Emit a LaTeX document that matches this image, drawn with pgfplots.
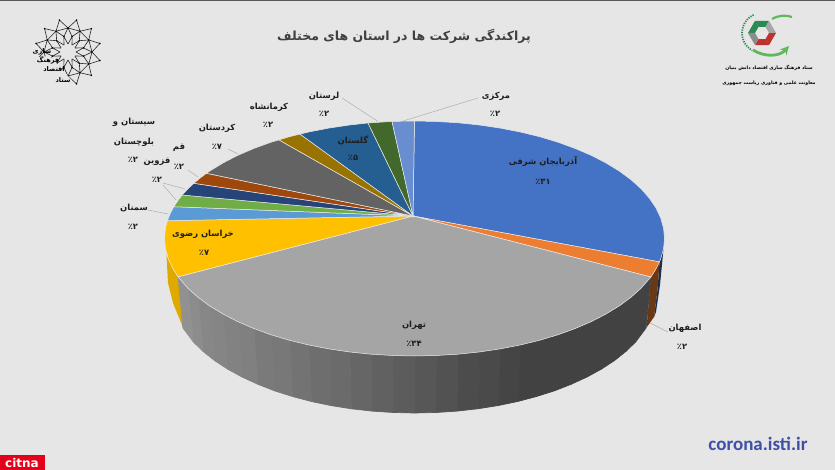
\documentclass[border=0pt]{standalone}
\usepackage{fontspec}
\usepackage{pgfplots}
\pgfplotsset{compat=1.18}
\TeXXeTstate=1
\newfontfamily\fa[Script=Arabic]{DejaVu Sans}
\newfontfamily\cb{Carlito}
\setmainfont{DejaVu Sans}
\definecolor{bg}{RGB}{230,230,230}
\definecolor{txt}{RGB}{30,30,30}
\definecolor{lead}{RGB}{175,175,175}
\definecolor{edge}{RGB}{235,235,235}
\definecolor{s1}{HTML}{4472C4}
\definecolor{s2}{HTML}{ED7D31}
\definecolor{s3}{HTML}{A5A5A5}
\definecolor{s4}{HTML}{FFC000}
\definecolor{s5}{HTML}{5B9BD5}
\definecolor{s6}{HTML}{70AD47}
\definecolor{s7}{HTML}{264478}
\definecolor{s8}{HTML}{9E480E}
\definecolor{s9}{HTML}{636363}
\definecolor{s10}{HTML}{997300}
\definecolor{s11}{HTML}{255E91}
\definecolor{s12}{HTML}{43682B}
\definecolor{s13}{HTML}{698ED0}
\definecolor{logog}{RGB}{40,140,80}
\definecolor{logol}{RGB}{95,185,90}
\definecolor{logor}{RGB}{190,50,45}
\definecolor{isti}{RGB}{62,80,168}
\definecolor{citnared}{RGB}{226,0,26}

\newcommand{\lab}[3]{\node[text=txt,inner sep=0pt,font=\fontsize{8.4}{9}\selectfont] at (axis cs:#1,#2) {\fa\bfseries #3};}
\newcommand{\slice}[2]{\addplot[fill=#1,draw=edge,line width=0.5pt] coordinates {(413,216) #2} --cycle;}
\newcommand{\wallq}[5]{\addplot[fill=black!#1,draw=black!#1,line width=0.7pt,line join=round] coordinates {#2 #3 #4 #5} --cycle;}
\newcommand{\leadline}[2]{\addplot[draw=lead,line width=0.5pt] coordinates {#1 #2};}

\begin{document}
\begin{tikzpicture}
\begin{axis}[
  at={(0pt,0pt)},
  scale only axis,
  width=835pt,
  height=470pt,
  xmin=0, xmax=835,
  ymin=0, ymax=470,
  y dir=reverse,
  hide axis,
  clip=true,
]
% page
\addplot[fill=bg,draw=none] coordinates {(0,0) (835,0) (835,470) (0,470)} --cycle;
\addplot[draw=black!65,line width=1pt] coordinates {(0,0.5) (835,0.5)};

% side walls at both ends of the grey slice
\addplot[fill=s1!40!black,draw=none] coordinates {(663.5,248.7) (660.7,258.9) (659.5,261.9) (657.5,290) (654,317) (656,312) (660,285)} --cycle;
\addplot[fill=s2!45!black,draw=none] coordinates {(659.5,261.9) (656,268.9) (650.9,277) (646.6,327.5) (654,317) (657.5,290)} --cycle;
\addplot[fill=s4!88!black,draw=none] coordinates {(178.1,276.8) (173,268.9) (168.3,258.9) (166.5,255) (168,283) (173,303) (183,327.5)} --cycle;

% side wall of the grey slice, darker to the right
\wallq{74}{(650.9,277)}{(641.1,288.2)}{(635.6,342)}{(646.1,328)}
\wallq{74}{(641.1,288.2)}{(631,297.25)}{(625.8,351.5)}{(635.6,342)}
\wallq{74}{(631,297.25)}{(619.3,305.9)}{(614.4,360.6)}{(625.8,351.5)}
\wallq{74}{(619.3,305.9)}{(606,314)}{(601.4,369.1)}{(614.4,360.6)}
\wallq{74}{(606,314)}{(591.3,321.6)}{(587,377)}{(601.4,369.1)}
\wallq{74}{(591.3,321.6)}{(575.2,328.5)}{(571.3,384.2)}{(587,377)}
\wallq{74}{(575.2,328.5)}{(557.9,334.8)}{(554.5,390.8)}{(571.3,384.2)}
\wallq{74}{(557.9,334.8)}{(539.5,340.3)}{(536.5,396.5)}{(554.5,390.8)}
\wallq{74}{(539.5,340.3)}{(520.2,345)}{(517.6,401.5)}{(536.5,396.5)}
\wallq{73}{(520.2,345)}{(500,348.9)}{(497.9,405.6)}{(517.6,401.5)}
\wallq{71}{(500,348.9)}{(479.2,352)}{(477.6,408.8)}{(497.9,405.6)}
\wallq{70}{(479.2,352)}{(457.9,354.2)}{(456.9,411.1)}{(477.6,408.8)}
\wallq{68}{(457.9,354.2)}{(436.3,355.5)}{(435.8,412.5)}{(456.9,411.1)}
\wallq{66}{(436.3,355.5)}{(414.5,356)}{(414.5,413)}{(435.8,412.5)}
\wallq{64}{(414.5,356)}{(392.7,355.5)}{(393.2,412.5)}{(414.5,413)}
\wallq{62}{(392.7,355.5)}{(371.1,354.2)}{(372.1,411.1)}{(393.2,412.5)}
\wallq{60}{(371.1,354.2)}{(349.8,352)}{(351.4,408.8)}{(372.1,411.1)}
\wallq{58}{(349.8,352)}{(329,348.9)}{(331.1,405.6)}{(351.4,408.8)}
\wallq{57}{(329,348.9)}{(308.8,345)}{(311.4,401.5)}{(331.1,405.6)}
\wallq{55}{(308.8,345)}{(289.5,340.3)}{(292.5,396.5)}{(311.4,401.5)}
\wallq{53}{(289.5,340.3)}{(271.1,334.8)}{(274.5,390.8)}{(292.5,396.5)}
\wallq{52}{(271.1,334.8)}{(253.8,328.5)}{(257.7,384.2)}{(274.5,390.8)}
\wallq{50}{(253.8,328.5)}{(237.7,321.6)}{(242,377)}{(257.7,384.2)}
\wallq{49}{(237.7,321.6)}{(223,314)}{(227.6,369.1)}{(242,377)}
\wallq{48}{(223,314)}{(209.7,305.9)}{(214.6,360.6)}{(227.6,369.1)}
\wallq{47}{(209.7,305.9)}{(198,297.25)}{(203.2,351.5)}{(214.6,360.6)}
\wallq{45}{(198,297.25)}{(187.9,288.2)}{(193.4,342)}{(203.2,351.5)}
\wallq{43}{(187.9,288.2)}{(178.1,276.8)}{(182.9,328)}{(193.4,342)}

% top face, one slice per province
\slice{s1}{(414.5,121) (436.3,121.5) (457.9,122.8) (479.2,125) (500,128.1) (520.2,132) (539.5,136.7) (557.9,142.2) (575.2,148.5) (591.3,155.4) (606,163) (619.3,171.1) (631,179.75) (641.1,188.8) (649.4,198.3) (656,208.1) (660.7,218.1) (663.55,228.3) (664.5,238.5) (663.55,248.7) (660.7,258.9) (659.5,261.9)}
\slice{s2}{(659.5,261.9) (656,268.9) (650.9,277)}
\slice{s3}{(650.9,277) (641.1,288.2) (631,297.25) (619.3,305.9) (606,314) (591.3,321.6) (575.2,328.5) (557.9,334.8) (539.5,340.3) (520.2,345) (500,348.9) (479.2,352) (457.9,354.2) (436.3,355.5) (414.5,356) (392.7,355.5) (371.1,354.2) (349.8,352) (329,348.9) (308.8,345) (289.5,340.3) (271.1,334.8) (253.8,328.5) (237.7,321.6) (223,314) (209.7,305.9) (198,297.25) (187.9,288.2) (178.1,276.8)}
\slice{s4}{(178.1,276.8) (173,268.9) (168.3,258.9) (165.45,248.7) (164.5,238.5) (165.45,228.3) (167.4,220.7)}
\slice{s5}{(167.4,220.7) (170,214.1) (173.8,206.7)}
\slice{s6}{(173.8,206.7) (177.7,200.9) (182.2,195)}
\slice{s7}{(182.2,195) (188,188.8) (193.8,183.3)}
\slice{s8}{(193.8,183.3) (200.2,178) (206.5,173.3)}
\slice{s9}{(206.5,173.3) (209.7,171.1) (223,163) (237.7,155.4) (253.8,148.5) (271.1,142.2) (279,139.9)}
\slice{s10}{(279,139.9) (289.5,136.7) (300,134.1)}
\slice{s11}{(300,134.1) (308.8,132) (329,128.1) (349.8,125) (368,123)}
\slice{s12}{(368,123) (371.1,122.8) (392,121.4)}
\slice{s13}{(392,121.4) (414.5,121)}

% leader lines
\leadline{(342,98)}{(378,121.5)}
\leadline{(403,121)}{(478,98)}
\leadline{(228,149)}{(238,154)}
\leadline{(188,170)}{(198,177)}
\leadline{(163,183)}{(185,189)}
\leadline{(163,185)}{(176,200)}
\leadline{(143,163)}{(148,165)}
\leadline{(148,210)}{(168,214)}
\leadline{(650,323)}{(668,332)}

% labels
\lab{543}{162}{\beginR آذربایجان شرقی\endR}
\lab{543}{182}{\beginR ٪۳۱\endR}
\lab{685}{328}{\beginR اصفهان\endR}
\lab{682}{347}{\beginR ٪۲\endR}
\lab{414}{325}{\beginR تهران\endR}
\lab{414}{344}{\beginR ٪۳۴\endR}
\lab{203}{234}{\beginR خراسان رضوی\endR}
\lab{204}{253}{\beginR ٪۷\endR}
\lab{134}{208}{\beginR سمنان\endR}
\lab{133}{227}{\beginR ٪۲\endR}
\lab{134}{122}{\beginR سیستان و\endR}
\lab{134}{142}{\beginR بلوچستان\endR}
\lab{133}{160}{\beginR ٪۲\endR}
\lab{157}{162}{\beginR قزوین\endR}
\lab{157}{180}{\beginR ٪۲\endR}
\lab{179}{148}{\beginR قم\endR}
\lab{179}{167}{\beginR ٪۲\endR}
\lab{217}{128}{\beginR کردستان\endR}
\lab{217}{147}{\beginR ٪۷\endR}
\lab{269}{107}{\beginR کرمانشاه\endR}
\lab{268}{125}{\beginR ٪۲\endR}
\lab{324}{96}{\beginR لرستان\endR}
\lab{324}{114}{\beginR ٪۲\endR}
\lab{353}{140}{\beginR گلستان\endR}
\lab{353}{158}{\beginR ٪۵\endR}
\lab{496}{96}{\beginR مرکزی\endR}
\lab{495}{114}{\beginR ٪۲\endR}

% title and corner marks
\node[text=black!75,inner sep=0pt,font=\fontsize{12.5}{14}\selectfont] at (axis cs:404,36) {\fa\bfseries\beginR پراکندگی شرکت ها در استان های مختلف\endR};
\addplot[fill=citnared,draw=none] coordinates {(0,455) (45,455) (45,470) (0,470)} --cycle;
\node[text=white,inner sep=0pt,font=\fontsize{12}{12}\selectfont\bfseries] at (axis cs:22,463) {citna};
\node[text=isti,inner sep=0pt,font=\cb\bfseries\fontsize{19}{20}\selectfont] at (axis cs:758,444) {corona.isti.ir};
\node[text=black,inner sep=0pt,font=\fontsize{4.7}{6}\selectfont] at (axis cs:769,68) {\fa\bfseries\beginR ستاد فرهنگ سازی اقتصاد دانش بنیان\endR};
\node[text=black,inner sep=0pt,font=\fontsize{4.7}{6}\selectfont] at (axis cs:769,83) {\fa\bfseries\beginR معاونت علمی و فناوری ریاست جمهوری\endR};
\end{axis}

% left emblem
\begin{scope}[shift={(68pt,418pt)},line width=0.6pt,draw=black!85]
\foreach \a in {0,30,...,330}{
  \pgfmathsetmacro\b{\a+15}
  \pgfmathsetmacro\c{\a+30}
  \draw (\a:8pt)--(\b:16pt)--(\c:8pt);
  \draw (\b:16pt)--(\a:24pt)--(\c:24pt)--cycle;
  \draw (\a:24pt)--(\b:33pt)--(\c:24pt);
  \fill[black] (\b:33pt) circle (0.9pt) (\a:24pt) circle (0.9pt) (\b:16pt) circle (0.9pt);
}
\end{scope}
\fill[bg] (30pt,412pt) -- (50pt,414pt) -- (76pt,385pt) -- (50pt,380pt) -- cycle;
\node[inner sep=0pt,font=\fontsize{6.5}{7}\selectfont] at (42pt,418pt) {\fa\bfseries\beginR سازی\endR};
\node[inner sep=0pt,font=\fontsize{6.5}{7}\selectfont] at (48pt,410pt) {\fa\bfseries\beginR فرهنگ\endR};
\node[inner sep=0pt,font=\fontsize{6.5}{7}\selectfont] at (54pt,401pt) {\fa\bfseries\beginR اقتصاد\endR};
\node[inner sep=0pt,font=\fontsize{6.5}{7}\selectfont] at (63pt,390pt) {\fa\bfseries\beginR ستاد\endR};

% right emblem
\begin{scope}[shift={(762pt,437pt)}]
\foreach \a [evaluate=\a as \b using \a+60] in {60,120}{\fill[logog] (\a:14pt)--(\b:14pt)--(\b:7pt)--(\a:7pt)--cycle;}
\foreach \a [evaluate=\a as \b using \a+60] in {240,300}{\fill[logor] (\a:14pt)--(\b:14pt)--(\b:7pt)--(\a:7pt)--cycle;}
\fill[black!45] (180:14pt)--(240:14pt)--(240:7pt)--(180:7pt)--cycle;
\fill[black!35] (0:14pt)--(60:14pt)--(60:7pt)--(0:7pt)--cycle;
\draw[logol,line width=2.2pt] (10pt,14pt) .. controls (17pt,18pt) and (24pt,18pt) .. (30pt,16pt);
\draw[logol,line width=2.8pt,-stealth] (-9pt,-17pt) .. controls (2pt,-24pt) and (17pt,-24pt) .. (27pt,-13pt);
\draw[logog,line width=1.8pt,dash pattern=on 1.2pt off 1.2pt] (115:20pt) arc[start angle=115,end angle=240,radius=20pt];
\end{scope}
\end{tikzpicture}
\end{document}
